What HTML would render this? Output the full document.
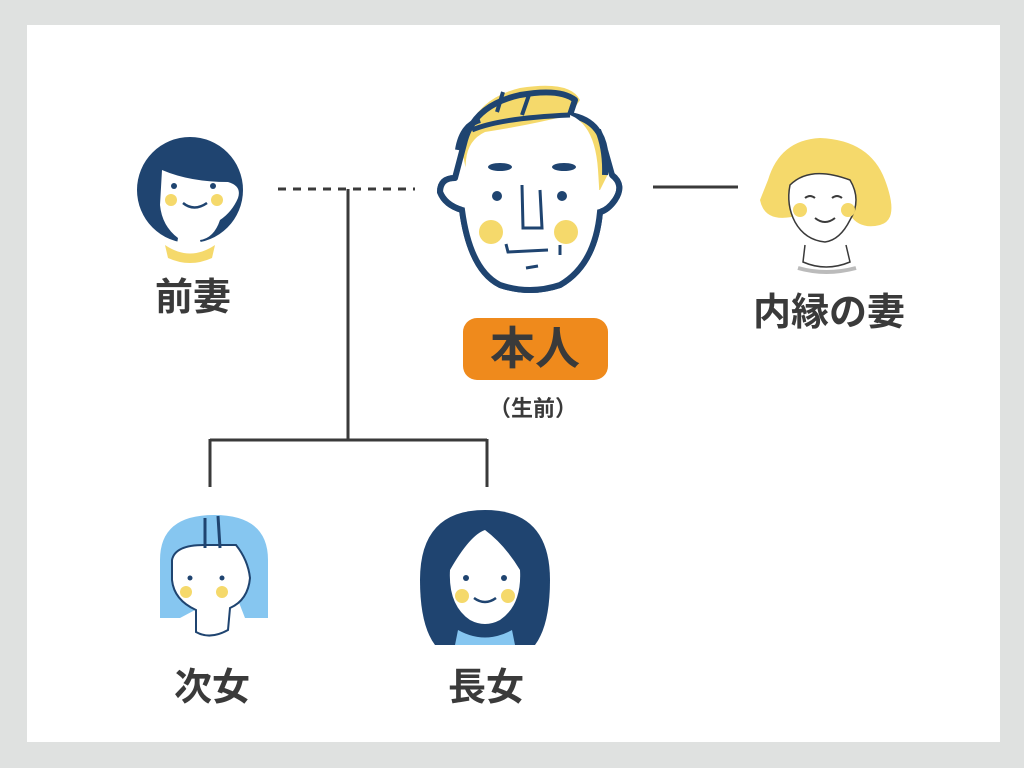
<!DOCTYPE html>
<html><head><meta charset="utf-8"><style>
html,body{margin:0;padding:0;}
body{width:1024px;height:768px;background:#dfe1e0;position:relative;overflow:hidden;font-family:"Liberation Sans","Noto Sans CJK JP",sans-serif;}
.panel{position:absolute;left:27px;top:25px;width:973px;height:717px;background:#fff;}
.lbl{position:absolute;font-weight:bold;color:#3a3a3a;font-size:38px;text-align:center;width:240px;line-height:1;}
</style></head><body>
<div class="panel"></div>
<svg width="1024" height="768" style="position:absolute;left:0;top:0">
<g stroke="#3a3a3a" stroke-width="3" fill="none">
<line x1="278" y1="189" x2="415" y2="189" stroke-dasharray="8,7"/>
<line x1="348" y1="189" x2="348" y2="440"/>
<line x1="210" y1="440" x2="487" y2="440"/>
<line x1="210" y1="439" x2="210" y2="487"/>
<line x1="487" y1="439" x2="487" y2="487"/>
<line x1="653" y1="187" x2="738" y2="187"/>
</g>
<!-- ex-wife -->
<path d="M165 245 Q190 262 215 245 L212 258 Q190 268 168 258Z" fill="#f5d96b"/>
<circle cx="190" cy="190" r="53" fill="#1f4470"/>
<path d="M162 170 Q190 182 228 182 Q242 186 238 198 Q232 212 220 220 Q214 238 200 240 L203 250 Q190 256 176 250 L178 238 Q162 226 160 205Z" fill="#fff"/>
<circle cx="171" cy="200" r="6" fill="#f5d96b"/><circle cx="217" cy="200" r="6" fill="#f5d96b"/>
<circle cx="174" cy="186" r="3" fill="#1f4470"/><circle cx="213" cy="186" r="3" fill="#1f4470"/>
<path d="M183 203 Q194 212 207 203" stroke="#1f4470" stroke-width="2.5" fill="none"/>
<!-- man -->
<path d="M462 150 Q470 100 520 88 Q570 80 580 100 L570 115 Q605 125 610 170 L600 190 L470 190Z" fill="#f5d96b"/>
<path d="M465 140 Q475 105 520 95 Q560 88 575 100 L570 115 Q600 120 605 150 L612 175 Q625 185 615 200 Q608 210 600 212 Q595 265 560 285 Q530 295 500 285 Q470 270 462 210 Q445 205 440 192 Q440 178 455 178Z" fill="none" stroke="#1f4470" stroke-width="6" stroke-linejoin="round"/>
<path d="M466 160 Q468 140 485 132 Q530 125 570 115 Q595 125 598 170 Q600 200 600 212 Q595 265 560 285 Q530 295 500 285 Q470 270 462 210Z" fill="#fff"/>
<path d="M458 150 Q462 125 480 120 M598 130 Q606 150 605 175" stroke="#1f4470" stroke-width="6" fill="none"/>
<path d="M612 175 Q625 185 615 200 Q608 210 600 212 Q595 265 560 285 Q530 295 500 285 Q470 270 462 210 Q445 205 440 192 Q440 178 455 178" fill="none" stroke="#1f4470" stroke-width="6"/>
<path d="M472 130 Q500 118 570 115" stroke="#1f4470" stroke-width="5" fill="none"/>
<path d="M503 92 L497 112 M530 92 L522 115" stroke="#1f4470" stroke-width="4"/>
<ellipse cx="500" cy="167" rx="12" ry="4" fill="#1f4470"/><ellipse cx="564" cy="167" rx="12" ry="4" fill="#1f4470"/>
<circle cx="497" cy="196" r="5" fill="#1f4470"/><circle cx="562" cy="196" r="5" fill="#1f4470"/>
<path d="M522 185 L523 228 L542 228 L540 190" stroke="#1f4470" stroke-width="3" fill="none"/>
<circle cx="491" cy="232" r="12" fill="#f5d96b"/><circle cx="566" cy="232" r="12" fill="#f5d96b"/>
<path d="M506 244 L508 252 L548 250 M560 245 L560 255 M526 268 L538 266" stroke="#1f4470" stroke-width="3" fill="none"/>
<rect x="463" y="318" width="145" height="62" rx="14" fill="#ef8a1c"/>
<!-- inner wife -->
<path d="M768 180 Q780 140 820 138 Q870 140 885 180 Q900 220 880 225 Q860 230 850 215 L800 215 Q765 225 760 200Z" fill="#f5d96b"/>
<path d="M790 185 Q810 165 850 180 Q862 200 850 220 Q840 240 825 242 Q805 240 795 222 Q786 205 790 185Z" fill="#fff" stroke="#3a3a3a" stroke-width="1.5"/>
<path d="M805 245 L803 262 Q826 272 850 262 L846 245" fill="#fff" stroke="#3a3a3a" stroke-width="1.5"/>
<path d="M798 268 Q826 276 856 268" stroke="#bbb" stroke-width="4" fill="none"/>
<circle cx="800" cy="210" r="7" fill="#f5d96b"/><circle cx="848" cy="210" r="7" fill="#f5d96b"/>
<path d="M805 198 Q810 194 815 198 M832 198 Q837 194 842 198 M815 218 Q825 226 835 218" stroke="#3a3a3a" stroke-width="2" fill="none"/>
<!-- second daughter -->
<path d="M160 560 Q160 515 214 515 Q268 515 268 560 L268 618 L245 618 L238 600 L195 610 L180 618 L160 618Z" fill="#86c6f0"/>
<path d="M172 560 Q175 545 204 545 L236 545 Q248 560 250 578 Q248 600 230 608 L228 630 Q210 640 196 632 L196 610 Q174 600 172 580Z" fill="#fff" stroke="#1f4470" stroke-width="2"/>
<path d="M205 518 L205 548 M218 516 L220 548" stroke="#1f4470" stroke-width="3"/>
<circle cx="186" cy="592" r="6" fill="#f5d96b"/><circle cx="222" cy="592" r="6" fill="#f5d96b"/>
<circle cx="190" cy="578" r="2.5" fill="#1f4470"/><circle cx="222" cy="578" r="2.5" fill="#1f4470"/>
<!-- first daughter -->
<path d="M420 580 Q420 510 485 510 Q550 510 550 580 Q550 625 535 645 L435 645 Q420 625 420 580Z" fill="#1f4470"/>
<path d="M458 630 Q485 645 512 630 L515 645 L455 645Z" fill="#86c6f0"/>
<path d="M450 570 Q470 535 485 530 Q505 545 520 570 Q522 605 500 620 Q485 628 470 620 Q448 605 450 570Z" fill="#fff"/>
<circle cx="462" cy="596" r="7" fill="#f5d96b"/><circle cx="508" cy="596" r="7" fill="#f5d96b"/>
<circle cx="466" cy="578" r="3" fill="#1f4470"/><circle cx="504" cy="578" r="3" fill="#1f4470"/>
<path d="M474 598 Q485 606 496 598" stroke="#1f4470" stroke-width="2.5" fill="none"/>
</svg>
<div class="lbl" style="left:73px;top:279px;">前妻</div>
<div class="lbl" style="left:709px;top:294px;">内縁の妻</div>
<div class="lbl" style="left:415px;top:326px;font-size:45px;">本人</div>
<div class="lbl" style="left:413px;top:398px;font-size:22px;">（生前）</div>
<div class="lbl" style="left:92px;top:669px;">次女</div>
<div class="lbl" style="left:366px;top:669px;">長女</div>
</body></html>
